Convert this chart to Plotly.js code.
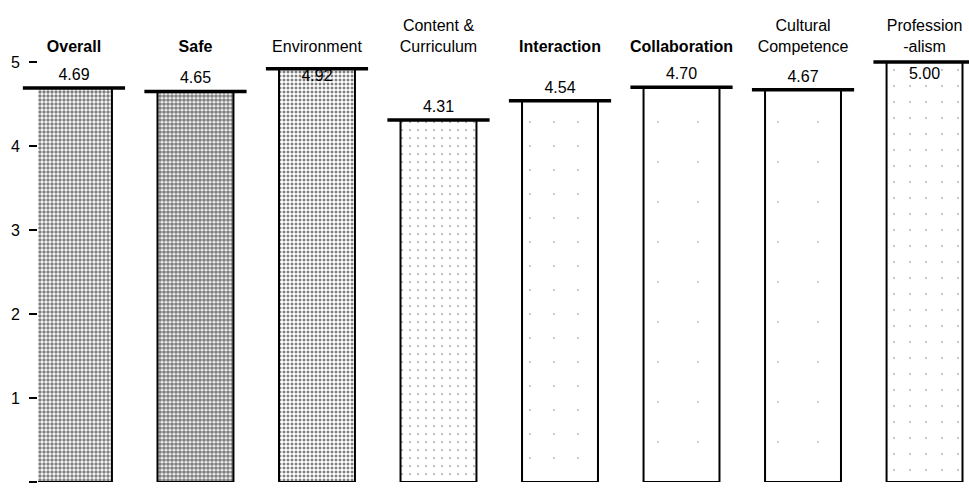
<!DOCTYPE html>
<html>
<head>
<meta charset="utf-8">
<script src="https://cdn.plot.ly/plotly-3.0.1.min.js"></script>
<style>html,body{margin:0;padding:0;background:#fff;}#chart{width:969px;height:488px;}</style>
</head>
<body>
<div id="chart"></div>
<script>
// ---- data ----
const categories = ['<b>Overall</b>', '<b>Safe</b>', 'Environment', 'Content &amp;<br>Curriculum',
                    '<b>Interaction</b>', '<b>Collaboration</b>', 'Cultural<br>Competence', 'Profession<br>-alism'];
const scores = [4.69, 4.65, 4.92, 4.31, 4.54, 4.70, 4.67, 5.00];
const scoreLabels = ['4.69', '4.65', '4.92', '4.31', '4.54', '4.70', '4.67', '5.00'];
const yTicks = [0, 1, 2, 3, 4, 5];

// ---- styling ----
const dotSolidity = [0.58, 0.68, 0.44, 0.035, 0.003, 0.001, 0.001, 0.008];
const dotSize = [4, 4, 4, 8, 24, 40, 40, 16];
const labelPos = ['top center', 'top center', 'bottom center', 'top center',
                  'top center', 'top center', 'top center', 'bottom center'];
const labelPad = [5, 5, 0, 5, 5, 5, 5, 6];
const font = 'Liberation Sans, Arial, sans-serif';

const bars = {
  type: 'bar',
  x: categories,
  y: scores,
  width: 0.625,
  marker: {
    color: 'white',
    line: {color: 'black', width: 2},
    pattern: {shape: '.', fgcolor: 'black', bgcolor: 'white', fillmode: 'overlay',
              size: dotSize, solidity: dotSolidity}
  },
  hoverinfo: 'skip',
  showlegend: false
};

const caps = {
  type: 'scatter',
  mode: 'markers',
  x: categories,
  y: scores,
  marker: {symbol: 'line-ew', size: 73, color: 'black', line: {color: 'black', width: 3.5}},
  cliponaxis: false,
  hoverinfo: 'skip',
  showlegend: false
};

const valueText = {
  type: 'scatter',
  mode: 'markers+text',
  x: categories,
  y: scores,
  text: scoreLabels,
  textposition: labelPos,
  textfont: {family: font, size: 16, color: 'black'},
  marker: {size: labelPad, color: 'rgba(0,0,0,0)', line: {width: 0}},
  cliponaxis: false,
  hoverinfo: 'skip',
  showlegend: false
};

const layout = {
  width: 969, height: 488,
  margin: {l: 38, r: 0, t: 62, b: 6},
  paper_bgcolor: 'white', plot_bgcolor: 'white',
  font: {family: font, color: 'black'},
  xaxis: {
    type: 'category',
    side: 'top',
    range: [-0.296, 7.366],
    showgrid: false, zeroline: false, showline: false,
    ticks: '',
    ticklabelstandoff: 6,
    tickfont: {family: font, size: 16, color: 'black'},
    fixedrange: true
  },
  yaxis: {
    range: [0, 5],
    tickvals: yTicks,
    ticktext: yTicks.map(String),
    ticks: 'outside', ticklen: 8, tickwidth: 2, tickcolor: 'black',
    ticklabelstandoff: 6,
    showgrid: false, zeroline: false, showline: false,
    tickfont: {family: font, size: 16, color: 'black'},
    fixedrange: true
  }
};

Plotly.newPlot('chart', [bars, caps, valueText], layout, {displayModeBar: false, staticPlot: true});
</script>
</body>
</html>
